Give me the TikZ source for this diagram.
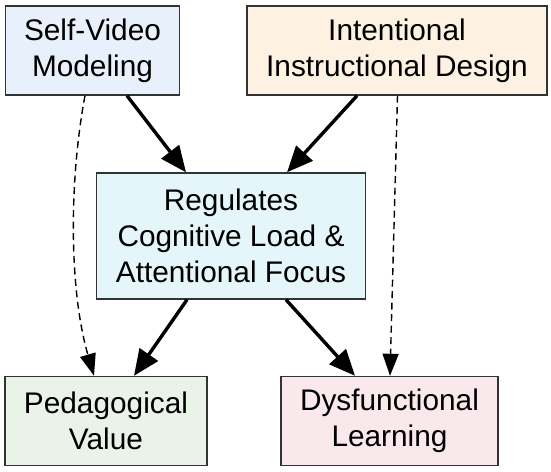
\documentclass[tikz,border=0pt]{standalone}
\usepackage{fontspec}
\setmainfont{Liberation Sans}
\usetikzlibrary{arrows.meta}
\definecolor{fillA}{HTML}{E8F1FB}
\definecolor{fillB}{HTML}{FDF2E1}
\definecolor{fillC}{HTML}{E5F6FA}
\definecolor{fillD}{HTML}{EAF3E8}
\definecolor{fillE}{HTML}{FAE9EC}
\definecolor{edge}{HTML}{333333}
\tikzset{
  box/.style={draw=edge, line width=1.4pt, rectangle, inner sep=0pt, align=center,
    font=\fontsize{29.8}{36}\selectfont},
  strong/.style={line width=3.4pt, -{Triangle[length=26pt,width=22pt]}},
  weak/.style={line width=1.4pt, dash pattern=on 7pt off 4.5pt, -{Triangle[length=22pt,width=16pt]}}
}
\begin{document}
\begin{tikzpicture}[x=1pt,y=-1pt]
\useasboundingbox (0,0) rectangle (551,471);
\node[box, fill=fillA, minimum width=174pt, minimum height=89pt] (A) at (92.5,50.5) {Self-Video\\Modeling};
\node[box, fill=fillB, minimum width=300pt, minimum height=89pt] (B) at (397,50.5) {Intentional\\Instructional Design};
\node[box, fill=fillC, minimum width=269pt, minimum height=126pt] (C) at (231,236) {Regulates\\Cognitive Load \&\\Attentional Focus};
\node[box, fill=fillD, minimum width=202pt, minimum height=89pt] (D) at (106,421) {Pedagogical\\Value};
\node[box, fill=fillE, minimum width=217pt, minimum height=89pt] (E) at (389.5,421) {Dysfunctional\\Learning};
\draw[strong] ([xshift=34.5pt]A.south) -- ([xshift=-45pt]C.north);
\draw[strong] ([xshift=-40pt]B.south) -- ([xshift=56pt]C.north);
\draw[strong] ([xshift=-44pt]C.south) -- ([xshift=28pt]D.north);
\draw[strong] ([xshift=55pt]C.south) -- ([xshift=-34.5pt]E.north);
\draw[weak] ([xshift=-7.5pt]A.south) .. controls ([xshift=-23.5pt,yshift=-85pt]A.south) and ([xshift=-37pt,yshift=86pt]D.north) .. ([xshift=-12pt]D.north);
\draw[weak] ([xshift=0.5pt]B.south) -- ([xshift=0.5pt]E.north);
\end{tikzpicture}
\end{document}
